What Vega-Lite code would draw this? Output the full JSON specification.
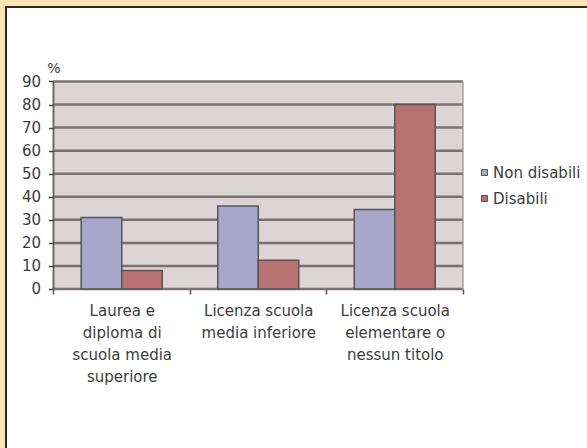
{
  "$schema": "https://vega.github.io/schema/vega-lite/v6.json",
  "width": 582,
  "height": 442,
  "autosize": "none",
  "padding": {"left": 6, "top": 7, "right": 0, "bottom": 0},
  "background": "#FCE5B4",
  "config": {
    "font": "DejaVu Sans",
    "view": {"fill": "#FFFFFF", "stroke": "#2A2A2A", "strokeWidth": 2},
    "axis": {"labelFont": "DejaVu Sans", "labelColor": "#3C3C3C", "labelFontSize": 15, "titleFont": "DejaVu Sans"}
  },
  "datasets": {
    "bars": [
      {"cat": "Laurea e diploma di scuola media superiore", "series": "Non disabili", "value": 31},
      {"cat": "Laurea e diploma di scuola media superiore", "series": "Disabili", "value": 8},
      {"cat": "Licenza scuola media inferiore", "series": "Non disabili", "value": 36},
      {"cat": "Licenza scuola media inferiore", "series": "Disabili", "value": 12.5},
      {"cat": "Licenza scuola elementare o nessun titolo", "series": "Non disabili", "value": 34.5},
      {"cat": "Licenza scuola elementare o nessun titolo", "series": "Disabili", "value": 80}
    ],
    "grid": [{"v": 0}, {"v": 10}, {"v": 20}, {"v": 30}, {"v": 40}, {"v": 50}, {"v": 60}, {"v": 70}, {"v": 80}, {"v": 90}]
  },
  "resolve": {"scale": {"x": "independent"}},
  "layer": [
    {
      "data": {"values": [{}]},
      "mark": {"type": "rect", "color": "#DDD5D5"},
      "encoding": {
        "x": {"datum": 0, "type": "quantitative", "scale": {"domain": [-0.34799, 3.91575], "nice": false, "zero": false}, "axis": null},
        "x2": {"datum": 3},
        "y": {
          "datum": 0, "type": "quantitative", "scale": {"domain": [-69.4, 122.31], "nice": false, "zero": false},
          "axis": {
            "orient": "left", "values": [0, 10, 20, 30, 40, 50, 60, 70, 80, 90], "domain": false, "grid": false, "offset": -47.5, "zindex": 1,
            "tickSize": 5, "tickColor": "#444444", "tickWidth": 1.5, "labelPadding": 8,
            "title": "%", "titleAngle": 0, "titleX": 0, "titleY": 61, "titleAlign": "center", "titleBaseline": "middle",
            "titleFontSize": 14, "titleFontWeight": "normal", "titleColor": "#3C3C3C"
          }
        },
        "y2": {"datum": 90}
      }
    },
    {
      "data": {"name": "grid"},
      "mark": {"type": "rule", "color": "#7A7272", "strokeWidth": 2.5},
      "encoding": {
        "x": {"datum": 0, "type": "quantitative", "scale": {"domain": [-0.34799, 3.91575], "nice": false, "zero": false}, "axis": null},
        "x2": {"datum": 3},
        "y": {
          "field": "v", "type": "quantitative", "scale": {"domain": [-69.4, 122.31], "nice": false, "zero": false},
          "axis": {
            "orient": "left", "values": [0, 10, 20, 30, 40, 50, 60, 70, 80, 90], "domain": false, "grid": false, "offset": -47.5, "zindex": 1,
            "tickSize": 5, "tickColor": "#444444", "tickWidth": 1.5, "labelPadding": 8,
            "title": "%", "titleAngle": 0, "titleX": 0, "titleY": 61, "titleAlign": "center", "titleBaseline": "middle",
            "titleFontSize": 14, "titleFontWeight": "normal", "titleColor": "#3C3C3C"
          }
        }
      }
    },
    {
      "data": {"values": [{}]},
      "mark": {"type": "rule", "color": "#A8A0A0", "strokeWidth": 1.5},
      "encoding": {
        "x": {"datum": 3, "type": "quantitative", "scale": {"domain": [-0.34799, 3.91575], "nice": false, "zero": false}, "axis": null},
        "y": {
          "datum": 0, "type": "quantitative", "scale": {"domain": [-69.4, 122.31], "nice": false, "zero": false},
          "axis": {
            "orient": "left", "values": [0, 10, 20, 30, 40, 50, 60, 70, 80, 90], "domain": false, "grid": false, "offset": -47.5, "zindex": 1,
            "tickSize": 5, "tickColor": "#444444", "tickWidth": 1.5, "labelPadding": 8,
            "title": "%", "titleAngle": 0, "titleX": 0, "titleY": 61, "titleAlign": "center", "titleBaseline": "middle",
            "titleFontSize": 14, "titleFontWeight": "normal", "titleColor": "#3C3C3C"
          }
        },
        "y2": {"datum": 90}
      }
    },
    {
      "data": {"name": "bars"},
      "mark": {"type": "bar", "stroke": "#555555", "strokeWidth": 1.5},
      "encoding": {
        "x": {
          "field": "cat", "type": "nominal",
          "scale": {"domain": ["Laurea e diploma di scuola media superiore", "Licenza scuola media inferiore", "Licenza scuola elementare o nessun titolo"], "paddingInner": 0, "paddingOuter": 0.63187, "align": 0.27536, "round": false},
          "axis": {
            "title": null, "offset": -160, "domain": false, "tickBand": "extent", "tickSize": 5, "tickColor": "#555555", "tickWidth": 1.5,
            "labelAngle": 0, "labelPadding": 9, "labelLineHeight": 22, "labelLimit": 0, "labelBaseline": "top",
            "labelExpr": "datum.value == 'Laurea e diploma di scuola media superiore' ? ['Laurea e', 'diploma di', 'scuola media', 'superiore'] : datum.value == 'Licenza scuola media inferiore' ? ['Licenza scuola', 'media inferiore'] : datum.value == 'Licenza scuola elementare o nessun titolo' ? ['Licenza scuola', 'elementare o', 'nessun titolo'] : ''"
          }
        },
        "xOffset": {"field": "series", "type": "nominal", "scale": {"domain": ["Non disabili", "Disabili"], "paddingInner": 0, "paddingOuter": 0.685}},
        "y": {
          "field": "value", "type": "quantitative",
          "scale": {"domain": [-69.4, 122.31], "nice": false, "zero": false},
          "axis": {
            "orient": "left", "values": [0, 10, 20, 30, 40, 50, 60, 70, 80, 90], "domain": false, "grid": false, "offset": -47.5, "zindex": 1,
            "tickSize": 5, "tickColor": "#444444", "tickWidth": 1.5, "labelPadding": 8,
            "title": "%", "titleAngle": 0, "titleX": 0, "titleY": 61, "titleAlign": "center", "titleBaseline": "middle",
            "titleFontSize": 14, "titleFontWeight": "normal", "titleColor": "#3C3C3C"
          }
        },
        "color": {
          "field": "series", "type": "nominal",
          "scale": {"domain": ["Non disabili", "Disabili"], "range": ["#A9A6CC", "#B87272"]},
          "legend": {
            "orient": "none", "legendX": 471, "legendY": 158, "title": null, "padding": 0,
            "symbolType": "square", "symbolSize": 36, "symbolStrokeColor": "#555555", "symbolStrokeWidth": 1, "symbolOpacity": 1,
            "labelFontSize": 15, "labelColor": "#3C3C3C", "labelOffset": 1, "rowPadding": 10, "labelLimit": 0
          }
        }
      }
    },
    {
      "data": {"values": [{}]},
      "mark": {"type": "rule", "color": "#6A6A6A", "strokeWidth": 2},
      "encoding": {
        "x": {"datum": 0, "type": "quantitative", "scale": {"domain": [-0.34799, 3.91575], "nice": false, "zero": false}, "axis": null},
        "y": {
          "datum": 0, "type": "quantitative", "scale": {"domain": [-69.4, 122.31], "nice": false, "zero": false},
          "axis": {
            "orient": "left", "values": [0, 10, 20, 30, 40, 50, 60, 70, 80, 90], "domain": false, "grid": false, "offset": -47.5, "zindex": 1,
            "tickSize": 5, "tickColor": "#444444", "tickWidth": 1.5, "labelPadding": 8,
            "title": "%", "titleAngle": 0, "titleX": 0, "titleY": 61, "titleAlign": "center", "titleBaseline": "middle",
            "titleFontSize": 14, "titleFontWeight": "normal", "titleColor": "#3C3C3C"
          }
        },
        "y2": {"datum": 90}
      }
    }
  ]
}
